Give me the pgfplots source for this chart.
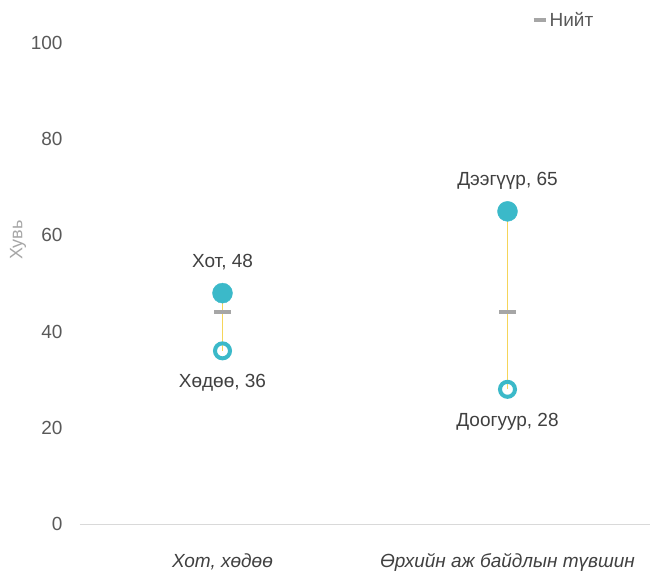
\documentclass[border=0pt]{standalone}
\usepackage{fontspec}
\setmainfont{Liberation Sans}
\usepackage{pgfplots}
\pgfplotsset{compat=1.18}
\definecolor{tealc}{HTML}{3BB9C9}
\definecolor{yellowone}{HTML}{F5D55A}
\definecolor{dashg}{HTML}{A6A6A6}
\definecolor{txtd}{HTML}{404040}
\definecolor{tickc}{HTML}{595959}
\definecolor{basec}{HTML}{D9D9D9}
\begin{document}
\begin{tikzpicture}
\useasboundingbox (-80pt,-50pt) rectangle (570pt,524pt);
\begin{axis}[
  scale only axis, width=570pt, height=481pt,
  xmin=-0.5, xmax=1.5, ymin=0, ymax=100,
  axis x line*=bottom, axis y line*=left,
  x axis line style={draw=basec, line width=1pt, -},
  y axis line style={draw=none},
  major tick length=0pt,
  ytick={0,20,...,100},
  xtick={0,1},
  xticklabels={Хот{,} хөдөө, Өрхийн аж байдлын түвшин},
  font=\fontsize{19}{22}\selectfont,
  yticklabel style={color=tickc, anchor=east, xshift=-14pt},
  xticklabel style={color=txtd, font=\fontsize{19}{22}\selectfont\itshape, anchor=center, yshift=-38pt},
  /pgf/number format/assume math mode=true,
  ylabel={Хувь},
  every axis y label/.style={at={(rel axis cs:0,0.59)}, xshift=-62pt, rotate=90, anchor=center, color=dashg, font=\fontsize{18}{20}\selectfont},
  legend style={draw=none, fill=none, at={(rel axis cs:0.848,1.048)}, anchor=center, font=\fontsize{19}{22}\selectfont, text=tickc, inner sep=0pt},
  legend cell align=left,
  clip=false,
]
\addplot[only marks, mark=*, mark size=10pt, color=tealc, forget plot] coordinates {(0,48) (1,65)};
\addplot[only marks, mark=o, mark size=7.5pt, line width=4pt, color=tealc, mark options={fill=white}, forget plot] coordinates {(0,36) (1,28)};
\addplot[draw=yellowone, no marks, line width=1.3pt, forget plot] coordinates {(0,36) (0,48)};
\addplot[draw=yellowone, no marks, line width=1.3pt, forget plot] coordinates {(1,28) (1,65)};
\addplot[only marks, mark=-, mark size=8.5pt, line width=4pt, color=dashg,
  legend image code/.code={\draw[dashg, line width=4pt] (0pt,0pt) -- (12pt,0pt);}]
  coordinates {(0,44) (1,44)};
\addlegendentry{Нийт}
\node[color=txtd, anchor=center, yshift=31pt] at (axis cs:0,48) {Хот, 48};
\node[color=txtd, anchor=center, yshift=-32pt] at (axis cs:0,36) {Хөдөө, 36};
\node[color=txtd, anchor=center, yshift=31pt] at (axis cs:1,65) {Дээгүүр, 65};
\node[color=txtd, anchor=center, yshift=-33pt] at (axis cs:1,28) {Доогуур, 28};
\end{axis}
\end{tikzpicture}
\end{document}
